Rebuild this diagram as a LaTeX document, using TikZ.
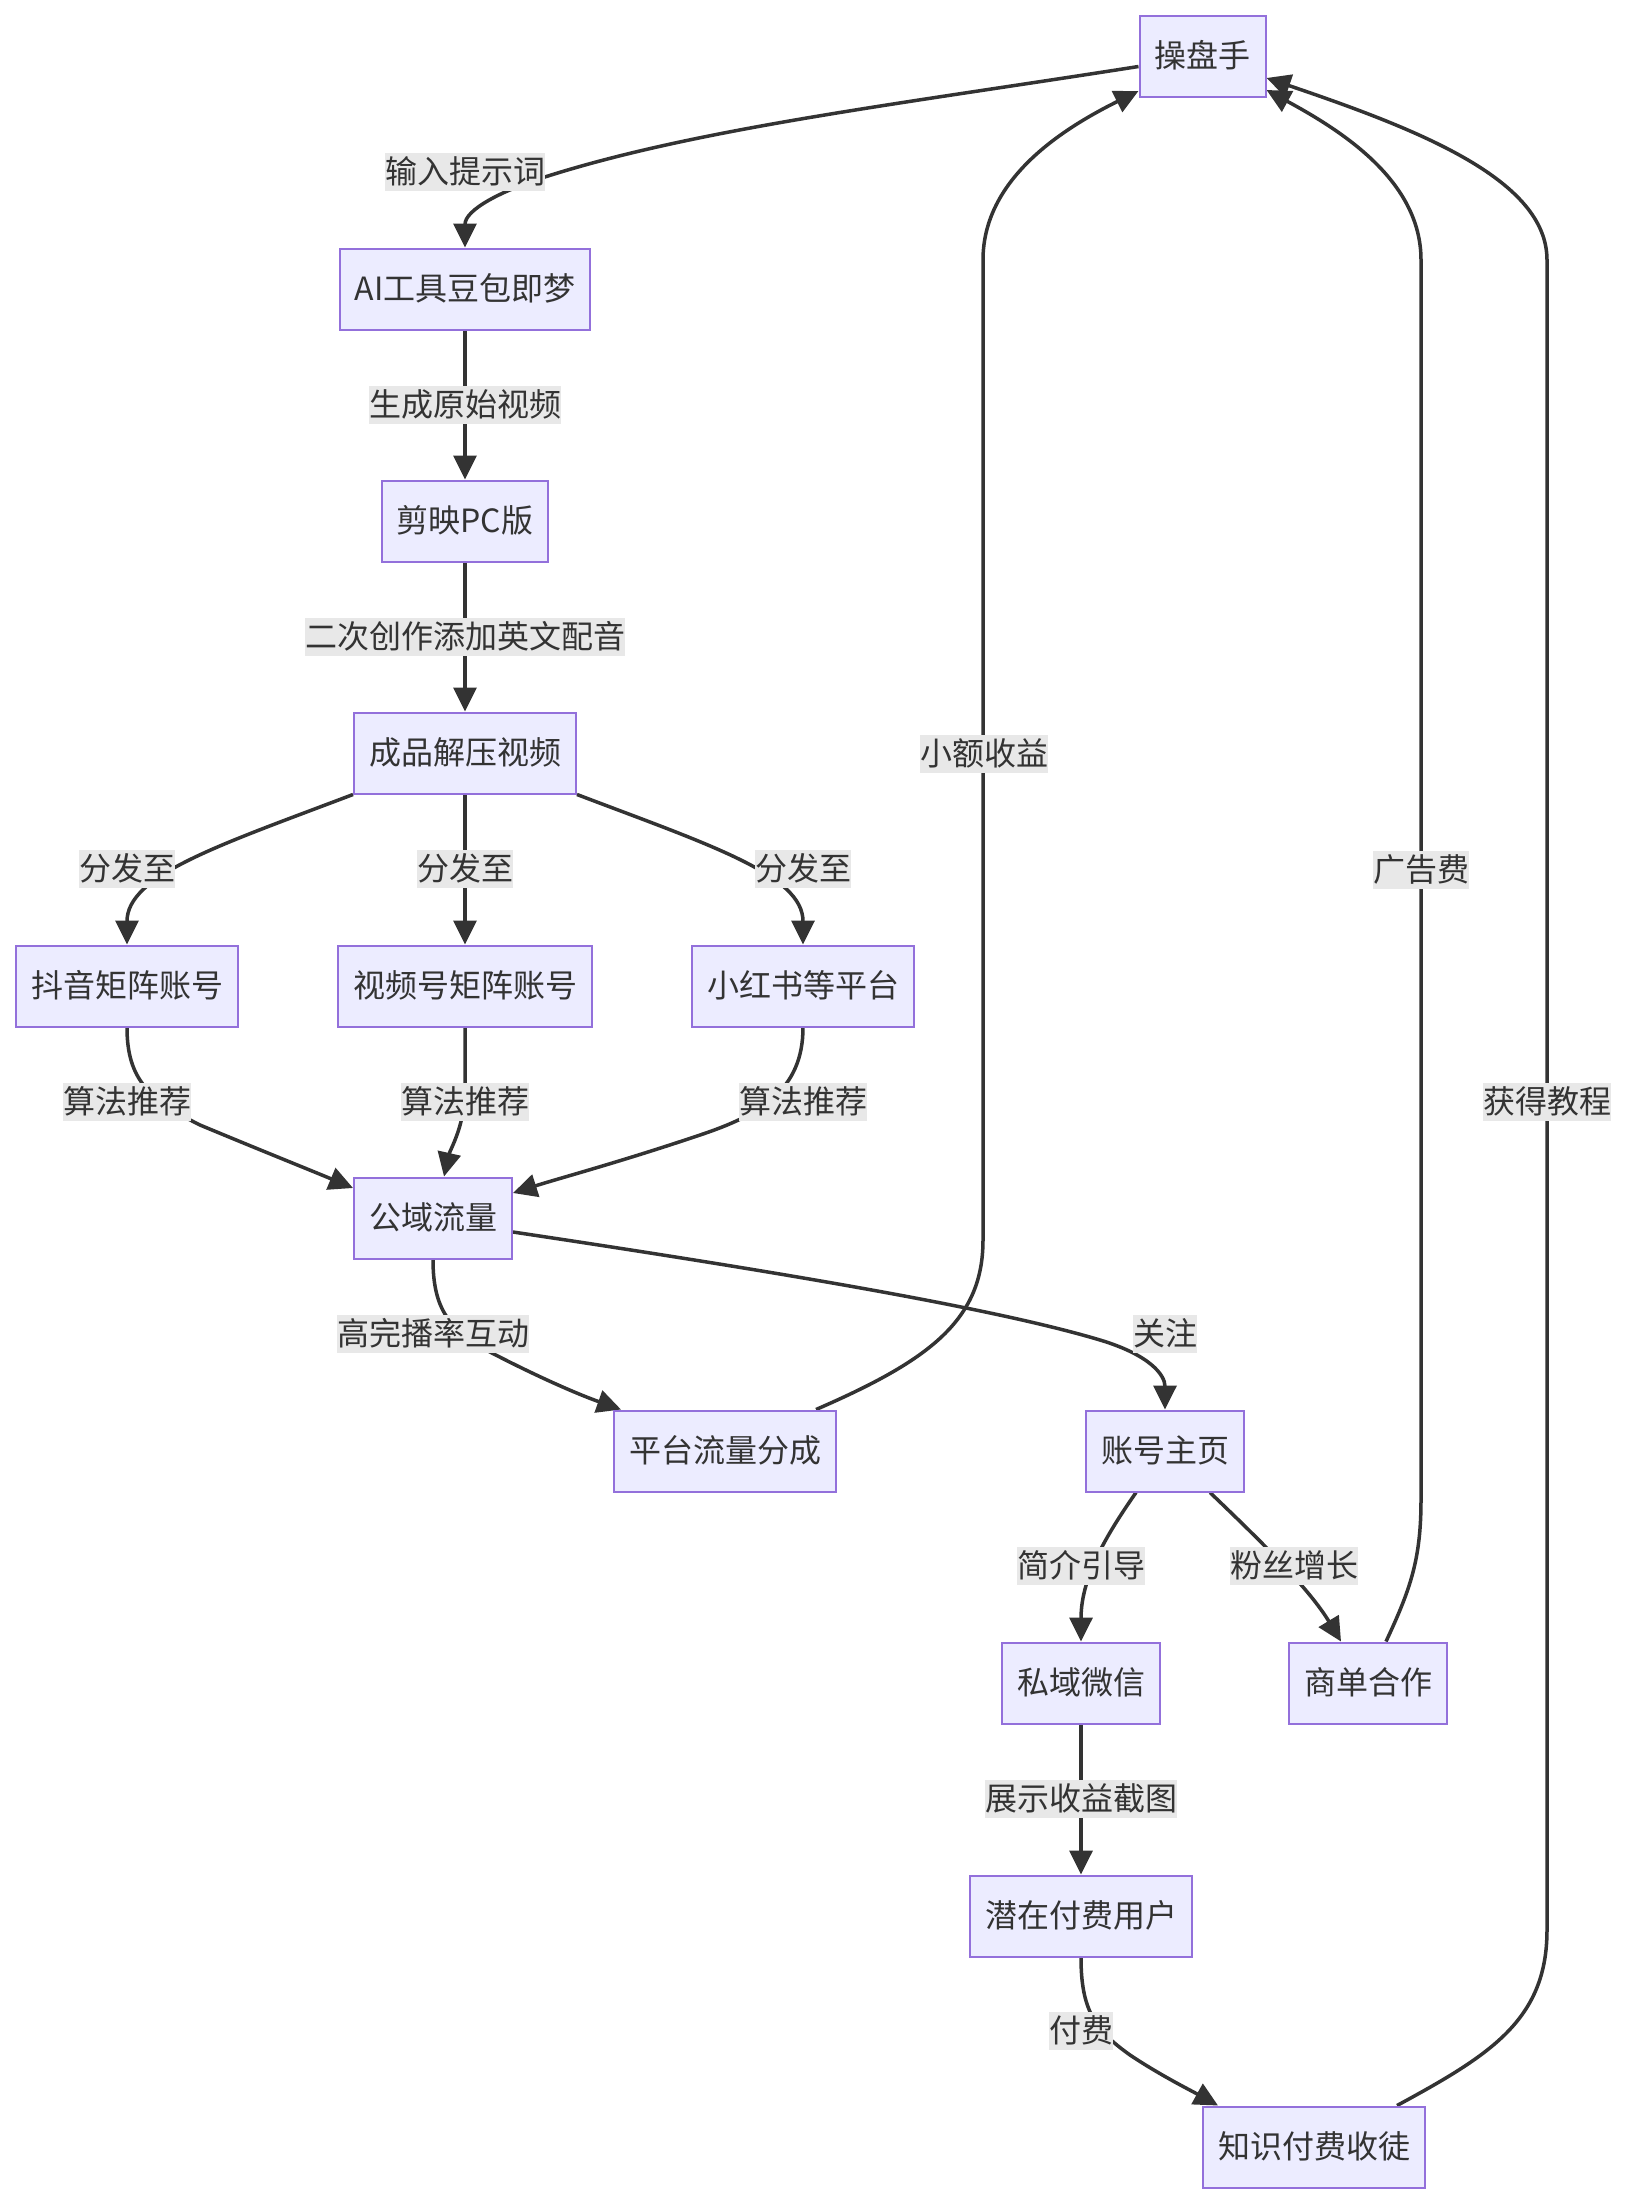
\documentclass[tikz,border=0pt]{standalone}
\usepackage{fontspec}
\setmainfont{Noto Sans CJK SC}
\usetikzlibrary{arrows.meta,backgrounds}
\definecolor{boxfill}{HTML}{ECECFF}
\definecolor{boxline}{HTML}{9370DB}
\definecolor{ink}{HTML}{333333}
\definecolor{lblbg}{HTML}{E8E8E8}
\begin{document}
\begin{tikzpicture}[x=1pt,y=-1pt,
  txt/.style={text=ink, font=\fontsize{32pt}{38pt}\selectfont, text height=27pt, text depth=5pt},
  box/.style={txt, draw=boxline, fill=boxfill, line width=2pt, minimum height=81pt, inner xsep=15pt, inner ysep=0pt},
  lbl/.style={txt, fill=lblbg, inner xsep=0pt, inner ysep=3pt},
  conn/.style={draw=ink, line width=3.5pt, -{Triangle[length=24pt,width=23pt]}},
  lineonly/.style={draw=ink, line width=3.5pt}
]
\useasboundingbox (0,0) rectangle (1628,2206);

% boxes
\node[box] (cp)  at (1202.5,56.5) {操盘手};
\node[box] (ai)  at (465,289) {AI工具豆包即梦};
\node[box] (jy)  at (465,521) {剪映PC版};
\node[box] (cpv) at (465,753) {成品解压视频};
\node[box] (dy)  at (127,986) {抖音矩阵账号};
\node[box] (sph) at (465,986) {视频号矩阵账号};
\node[box] (xhs) at (803,986) {小红书等平台};
\node[box] (gy)  at (433,1218) {公域流量};
\node[box] (pt)  at (725,1451) {平台流量分成};
\node[box] (zh)  at (1165,1451) {账号主页};
\node[box] (sy)  at (1081,1683) {私域微信};
\node[box] (sd)  at (1368,1683) {商单合作};
\node[box] (qz)  at (1081,1916) {潜在付费用户};
\node[box] (zs)  at (1314,2147) {知识付费收徒};

% edge labels
\node[lbl] (l1)  at (465,172) {输入提示词};
\node[lbl] (l2)  at (465,405) {生成原始视频};
\node[lbl] (l3)  at (465,637) {二次创作添加英文配音};
\node[lbl] (l4a) at (127,869) {分发至};
\node[lbl] (l4b) at (465,869) {分发至};
\node[lbl] (l4c) at (803,869) {分发至};
\node[lbl] (l5a) at (127,1102) {算法推荐};
\node[lbl] (l5b) at (465,1102) {算法推荐};
\node[lbl] (l5c) at (803,1102) {算法推荐};
\node[lbl] (l6)  at (433,1334) {高完播率互动};
\node[lbl] (l7)  at (1165,1334) {关注};
\node[lbl] (l8)  at (984,754) {小额收益};
\node[lbl] (l9)  at (1421,870) {广告费};
\node[lbl] (l10) at (1547,1102) {获得教程};
\node[lbl] (l11) at (1081,1566) {简介引导};
\node[lbl] (l12) at (1294,1566) {粉丝增长};
\node[lbl] (l13) at (1081,1799) {展示收益截图};
\node[lbl] (l14) at (1081,2031) {付费};

\begin{pgfonlayer}{background}
\fill[white] (0,0) rectangle (1628,2206);
\draw[conn] ([yshift=-10pt]cp.west) .. controls (900,104) and (700,128) .. (548,176) .. controls (500,191) and (465,210) .. (ai.north);
\draw[conn] (ai.south) -- (jy.north);
\draw[conn] (jy.south) -- (cpv.north);
\draw[conn] (cpv.south west) .. controls (220,845) and (127,875) .. (dy.north);
\draw[conn] (cpv.south) -- (sph.north);
\draw[conn] (cpv.south east) .. controls (710,845) and (803,875) .. (xhs.north);
\draw[conn] (dy.south) .. controls (127,1080) and (150,1100) .. (200,1125) .. controls (260,1150) and (310,1170) .. ([yshift=30pt]gy.west);
\draw[conn] (sph.south) -- (465,1090) .. controls (465,1125) and (450,1150) .. ([xshift=11pt]gy.north);
\draw[conn] (xhs.south) .. controls (803,1090) and (760,1115) .. (700,1135) .. controls (620,1162) and (560,1178) .. ([yshift=25pt]gy.east);
\draw[conn] (gy.south) .. controls (433,1310) and (450,1330) .. (490,1352) .. controls (540,1378) and (580,1395) .. ([xshift=8pt]pt.north west);
\draw[conn] ([yshift=-14pt]gy.east) .. controls (800,1275) and (1000,1310) .. (1100,1340) .. controls (1150,1355) and (1165,1375) .. (zh.north);
\draw[conn] ([xshift=-21pt]pt.north east) .. controls (930,1360) and (983,1320) .. (983,1240) -- (983,260) .. controls (983,180) and (1060,130) .. ([yshift=-34.5pt]cp.west);
\draw[conn] ([xshift=-29pt]zh.south) .. controls (1110,1530) and (1081,1575) .. (sy.north);
\draw[conn] ([xshift=45pt]zh.south) .. controls (1265,1545) and (1310,1590) .. ([xshift=-27pt]sd.north);
\draw[conn] ([xshift=18pt]sd.north) .. controls (1410,1590) and (1421,1560) .. (1421,1500) -- (1421,260) .. controls (1421,180) and (1340,130) .. ([yshift=-33.5pt]cp.east);
\draw[conn] (sy.south) -- (qz.north);
\draw[conn] (qz.south) .. controls (1081,2010) and (1095,2030) .. (1130,2055) .. controls (1160,2075) and (1190,2090) .. ([xshift=16pt]zs.north west);
\draw[conn] ([xshift=83pt]zs.north) .. controls (1490,2055) and (1547,2020) .. (1547,1930) -- (1547,260) .. controls (1547,180) and (1420,130) .. ([yshift=-21.5pt]cp.east);
\end{pgfonlayer}
\end{tikzpicture}
\end{document}
